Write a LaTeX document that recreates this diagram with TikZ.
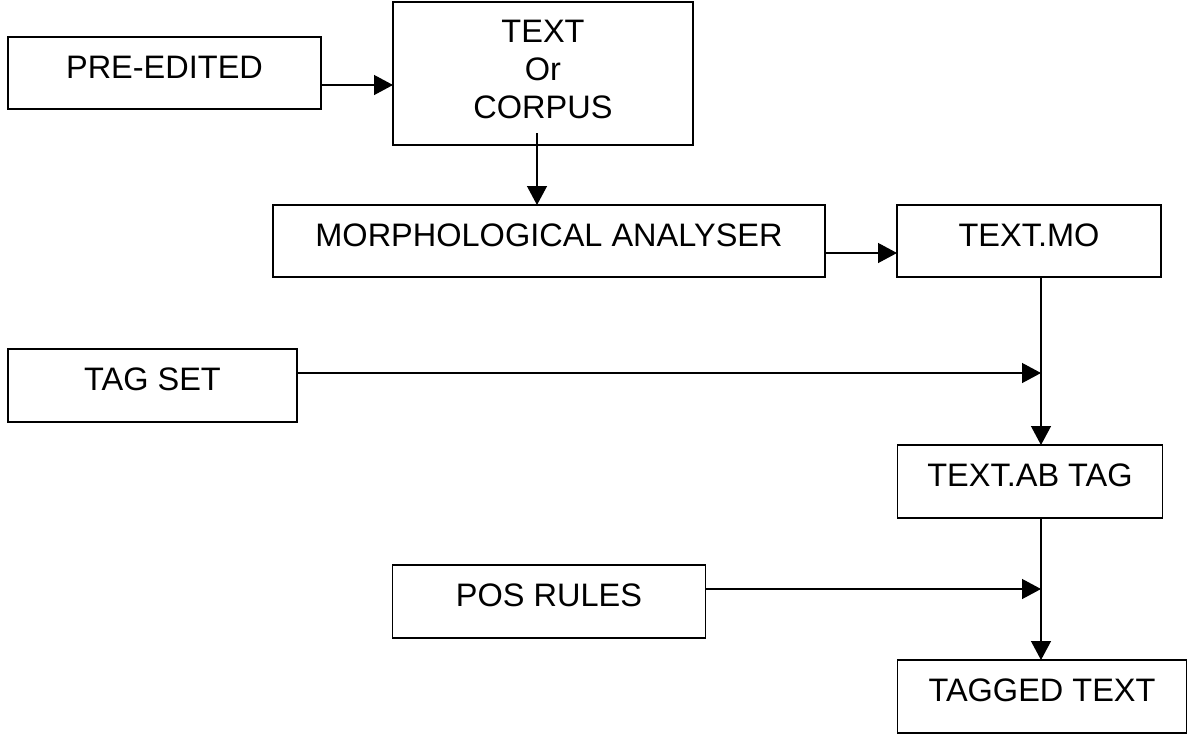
\documentclass[tikz,border=0pt]{standalone}
\usepackage{fontspec}
\setmainfont{Liberation Sans}
\usetikzlibrary{arrows.meta}
\begin{document}
\begin{tikzpicture}[x=1pt,y=-1pt,
  box/.style={draw, line width=1.3pt, inner sep=0pt, outer sep=0pt, text depth=12pt,
    font=\fontsize{32.5}{38}\selectfont},
  arr/.style={line width=1.3pt, -{Triangle[length=19pt,width=20pt]}}]
\useasboundingbox (0,0) rectangle (1188,734);
\node[box, minimum width=313pt, minimum height=72pt] (pre) at (164.5,73) {PRE-EDITED};
\node[box, minimum width=300pt, minimum height=143pt, align=center, text depth=8pt] (txt) at (543,73.5) {TEXT\\Or\\CORPUS};
\node[box, minimum width=552pt, minimum height=72pt] (morph) at (549,241) {MORPHOLOGICAL ANALYSER};
\node[box, minimum width=264pt, minimum height=72pt] (mo) at (1029,241) {TEXT.MO};
\node[box, minimum width=289pt, minimum height=73pt] (tag) at (152.5,385.5) {TAG SET};
\node[box, minimum width=265pt, minimum height=73pt] (ab) at (1030,481.5) {TEXT.AB TAG};
\node[box, minimum width=313pt, minimum height=73pt] (pos) at (549,601.5) {POS RULES};
\node[box, minimum width=289pt, minimum height=73pt] (tagged) at (1042,696.5) {TAGGED TEXT};
\coordinate (c1) at (537,133);
\coordinate (j1) at (1041,373);
\coordinate (j2) at (1041,589);
\draw[arr] ([yshift=-12pt]pre.east) -- ([yshift=-12pt]pre.east -| txt.west);
\draw[arr] (c1) -- (c1 |- morph.north);
\draw[arr] ([yshift=-12pt]morph.east) -- ([yshift=-12pt]morph.east -| mo.west);
\draw[arr] (j1 |- mo.south) -- (j1 |- ab.north);
\draw[arr] (tag.east |- j1) -- (j1);
\draw[arr] (j2 |- ab.south) -- (j2 |- tagged.north);
\draw[arr] (pos.east |- j2) -- (j2);
\end{tikzpicture}
\end{document}
